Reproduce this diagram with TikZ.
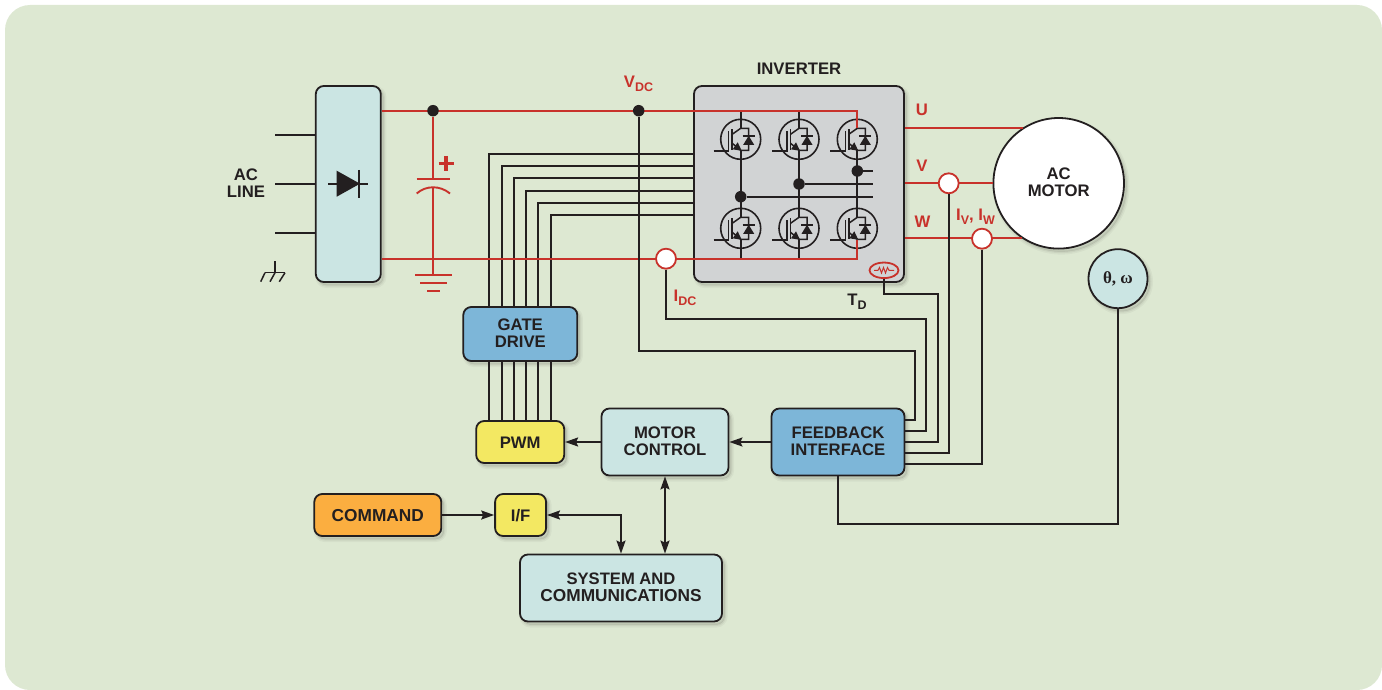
\documentclass[tikz,border=0pt]{standalone}
\usepackage{fontspec}
\setmainfont{Liberation Sans}
\newfontfamily\thetafont{Liberation Serif}
\usetikzlibrary{arrows.meta,calc,shapes.geometric}
\definecolor{bgc}{HTML}{DDE8D2}
\definecolor{teal}{HTML}{CBE5E3}
\definecolor{bluec}{HTML}{7DB6D8}
\definecolor{yell}{HTML}{F3E862}
\definecolor{oran}{HTML}{FBAE40}
\definecolor{grayc}{HTML}{D1D3D4}
\definecolor{redc}{HTML}{C8322B}
\definecolor{ink}{HTML}{231F20}
\newcommand{\sbs}[1]{\raisebox{-3.5pt}{\fontsize{12.5}{12.5}\selectfont #1}}
\tikzset{
  softshadow/.style={
    preaction={draw=black,line width=6pt,opacity=.035,transform canvas={shift={(2.5pt,-3pt)}}},
    preaction={draw=black,line width=3pt,opacity=.05,transform canvas={shift={(2.5pt,-3pt)}}},
    preaction={fill=black,draw=black,line width=.5pt,opacity=.06,transform canvas={shift={(2.5pt,-3pt)}}}},
  box/.style={softshadow,draw=ink,line width=1.8pt,rounded corners=8pt,inner sep=0pt,align=center,
    text=ink,font=\fontsize{16.7}{16.5}\selectfont\bfseries},
  wide text/.style={font=\fontsize{17.3}{16.5}\selectfont\bfseries},
  one line/.style={text height=14pt,text depth=0.2pt},
  two lines/.style={text depth=1.8pt},
  wire/.style={draw=ink,line width=1.9pt},
  thin wire/.style={draw=ink,line width=1.5pt},
  redw/.style={draw=redc,line width=1.9pt},
  arr/.style={wire,-{Stealth[length=13pt,width=9pt,inset=2pt]}},
  darr/.style={wire,{Stealth[length=13pt,width=9pt,inset=2pt]}-{Stealth[length=13pt,width=9pt,inset=2pt]}},
  dotn/.style={circle,fill=ink,inner sep=0pt,minimum size=11.5pt},
  sensor/.style={circle,draw=redc,fill=white,line width=1.8pt,inner sep=0pt,minimum size=20pt},
  lab/.style={text=ink,align=center,inner sep=0pt,font=\fontsize{16.7}{16.5}\selectfont\bfseries},
  rlab/.style={lab,text=redc},
}
\newcommand{\igbt}[2]{%
  \begin{scope}[shift={(#1,#2)}]
    \draw[thin wire,line width=1.6pt] (0,0) circle[radius=20];
    \draw[thin wire] (-27,11.7) -- (-12,11.7) -- (-12,-8);
    \draw[thin wire] (-8.5,-10) -- (-8.5,11);
    \draw[thin wire] (-8.5,-5) -- (0,-11) -- (8,-11) -- (8,11) -- (0,11);
    \draw[thin wire] (-8.5,4) -- (0,11);
    \fill[ink] (1,11.5) -- (-8,10) -- (-3,3) -- cycle;
    \fill[ink] (8,-3.5) -- (13.5,5.5) -- (2.5,5.5) -- cycle;
    \draw[thin wire] (2,-3.5) -- (14,-3.5);
  \end{scope}}
\begin{document}
\begin{tikzpicture}[x=1pt,y=-1pt]
\useasboundingbox (0,0) rectangle (1382,690);
\fill[bgc,rounded corners=25pt] (5,5) rectangle (1382,690);

% main blocks
\node[box,fill=teal,minimum width=65pt,minimum height=196pt] (rect) at (348.3,184) {};
\node[box,fill=grayc,minimum width=210pt,minimum height=196pt] (inv) at (799,184) {};
\node[box,two lines,fill=bluec,minimum width=114pt,minimum height=54pt] (gate) at (520.3,334) {GATE\\DRIVE};
\node[box,one line,fill=yell,minimum width=88pt,minimum height=42pt] (pwm) at (520.2,442) {PWM};
\node[box,two lines,fill=teal,minimum width=127pt,minimum height=67pt] (mc) at (665,442) {MOTOR\\CONTROL};
\node[box,two lines,fill=bluec,minimum width=133pt,minimum height=67pt] (fb) at (838,442) {FEEDBACK\\INTERFACE};
\node[box,one line,wide text,fill=oran,minimum width=127pt,minimum height=42pt] (cmd) at (377.8,515) {COMMAND};
\node[box,one line,fill=yell,minimum width=51pt,minimum height=42pt] (if) at (520.6,515) {I/F};
\node[box,two lines,wide text,fill=teal,minimum width=202pt,minimum height=67pt] (sys) at (621,588) {{\fontsize{16.6}{16.5}\selectfont SYSTEM AND}\\COMMUNICATIONS};

% AC line
\coordinate (acA) at (275,135);
\coordinate (acB) at (275,184);
\coordinate (acC) at (275,233);
\draw[wire] (acA) -- (acA -| rect.west);
\draw[wire] (acB) -- (acB -| rect.west);
\draw[wire] (acC) -- (acC -| rect.west);
\draw[wire] (275,261) -- (275,272.7);
\draw[thin wire] (265,272.7) -- (285,272.7);
\draw[thin wire] (265,272.7) -- (260.7,281.7);
\draw[thin wire] (275,272.7) -- (270,281.7);
\draw[thin wire] (285,272.7) -- (279.3,281.7);
% rectifier diode
\fill[ink] (336.7,170.7) -- (360,183.7) -- (336.7,196.7) -- cycle;
\draw[thin wire] (328,184) -- (368,184);
\draw[wire] (359,170) -- (359,198);

% gate signals
\foreach \gx/\gy in {489.3/154,501.7/165.7,513.7/178,526/190.7,538.3/202.7,550.7/215}{
  \coordinate (gt) at (\gx,\gy);
  \draw[wire] (gt -| inv.west) -- (gt) -- (gt |- gate.north);
  \draw[wire] (gt |- gate.south) -- (gt |- pwm.north);
}

% IGBT legs
\foreach \lx in {740.7,799}{
  \draw[wire] (\lx,110.7) -- (\lx,128.3);
  \draw[wire] (\lx,239.3) -- (\lx,258.7);
}
\foreach \lx in {740.7,799,857.3}{
  \draw[wire] (\lx,150.3) -- (\lx,217.3);
  \igbt{\lx}{139.3}
  \igbt{\lx}{228.3}
}
\node[dotn] (d1) at (740.7,196.7) {};
\node[dotn] (d2) at (799,184) {};
\node[dotn] (d3) at (857.3,171) {};
\coordinate (busEnd) at (873.3,0);
\draw[wire] (d1) -- (d1 -| busEnd);
\draw[wire] (d2) -- (d2 -| busEnd);
\draw[wire] (d3) -- (d3 -| busEnd);

% thermistor
\node[ellipse,draw=redc,line width=1.8pt,inner sep=0pt,minimum width=29pt,minimum height=15.5pt] (therm) at (884,270.3) {};
\draw[redc,line width=1pt] (874,270.3) -- (878,270.3) -- (879.5,267.5) -- (881.5,273) -- (883.5,267.5) -- (885.5,273) -- (887.5,267.5) -- (889,270.3) -- (894,270.3);

% power rails
\coordinate (busTop) at (rect.east |- 0,110.7);
\coordinate (busBot) at (rect.east |- 0,258.7);
\coordinate (railT) at (857.3,128);
\coordinate (railB) at (857.3,240);
\draw[redw] (busTop) -- (busTop -| railT) -- (railT);
\draw[redw] (busBot) -- (busBot -| railB) -- (railB);
\node[dotn] (capdot) at (433,110.7) {};
\node[dotn] (vdc) at (638.7,110.7) {};
\draw[redw] (capdot) -- (433,179);
\draw[redw] (416.7,179) -- (450,179);
\draw[redw] (416.7,193.5) .. controls (426,185.2) and (440,185.2) .. (450,193.5);
\draw[redw] (433,187.3) -- (433,275.3);
\draw[redw] (415,275.3) -- (451.7,275.3);
\draw[redw] (420,282.7) -- (447,282.7);
\draw[redw] (427,290.7) -- (440,290.7);
\draw[redc,line width=3.6pt] (438.5,163.5) -- (453.5,163.5) (446,156) -- (446,171);

% motor and position sensor
\node[circle,softshadow,draw=ink,fill=white,line width=1.8pt,inner sep=0pt,minimum size=130.6pt,align=center,text=ink,two lines,font=\fontsize{16.7}{16.5}\selectfont\bfseries] (motor) at (1058.7,183.3) {AC\\MOTOR};
\node[circle,softshadow,draw=ink,fill=teal,line width=1.8pt,inner sep=0pt,minimum size=59pt,text=ink,font=\thetafont\fontsize{17}{17}\selectfont\bfseries] (theta) at (1118,278.7) {θ, ω};

% motor phases
\draw[redw] (motor.123.3 -| inv.east) -- (motor.123.3);
\draw[redw] (motor.west -| inv.east) -- (motor.west);
\draw[redw] (motor.236.7 -| inv.east) -- (motor.236.7);

% sensors
\node[sensor] (sV) at (948.7,183.3) {};
\node[sensor] (sW) at (982,238.7) {};
\node[sensor] (sI) at (666,258.7) {};

% feedback wires
\coordinate (fbA) at (0,419.7);
\coordinate (fbB) at (0,431);
\coordinate (fbC) at (0,442.3);
\coordinate (fbD) at (0,453);
\coordinate (fbE) at (0,464);
\draw[wire] (vdc) -- (638.7,351) -- (915,351) -- (915,419.7) -- (fb.east |- fbA);
\draw[wire] (sI) -- (666,319) -- (926.3,319) -- (926.3,431) -- (fb.east |- fbB);
\draw[wire] (therm.south) -- (884,294.3) -- (937.7,294.3) -- (937.7,442.3) -- (fb.east |- fbC);
\draw[wire] (sV) -- (948.7,453) -- (fb.east |- fbD);
\draw[wire] (sW) -- (982,464) -- (fb.east |- fbE);
\draw[wire] (theta) -- (1118,524) -- (838,524) -- (fb.south);

% control arrows
\draw[arr] (fb.west) -- (mc.east);
\draw[arr] (mc.west) -- (pwm.east);
\draw[arr] (cmd.east) -- (if.west);
\coordinate (sysIn) at (621,515);
\draw[darr] (if.east) -- (sysIn) -- (sys.north);
\draw[darr] (mc.south) -- (sys.north -| mc.south);

% labels
\node[lab] (tac) at (246,183) {AC\\LINE};
\node[lab] (tinv) at (799,68.5) {INVERTER};
\node[rlab] (tvdc) at (638.5,84) {V\sbs{DC}};
\node[rlab] (tu) at (922,110) {U};
\node[rlab] (tv) at (922,166) {V};
\node[rlab] (tw) at (922.5,222) {W};
\node[rlab] (tiv) at (975.5,217) {I\sbs{V}, I\sbs{W}};
\node[rlab] (tidc) at (685,298) {I\sbs{DC}};
\node[lab] (ttd) at (857,302) {T\sbs{D}};
\end{tikzpicture}
\end{document}
